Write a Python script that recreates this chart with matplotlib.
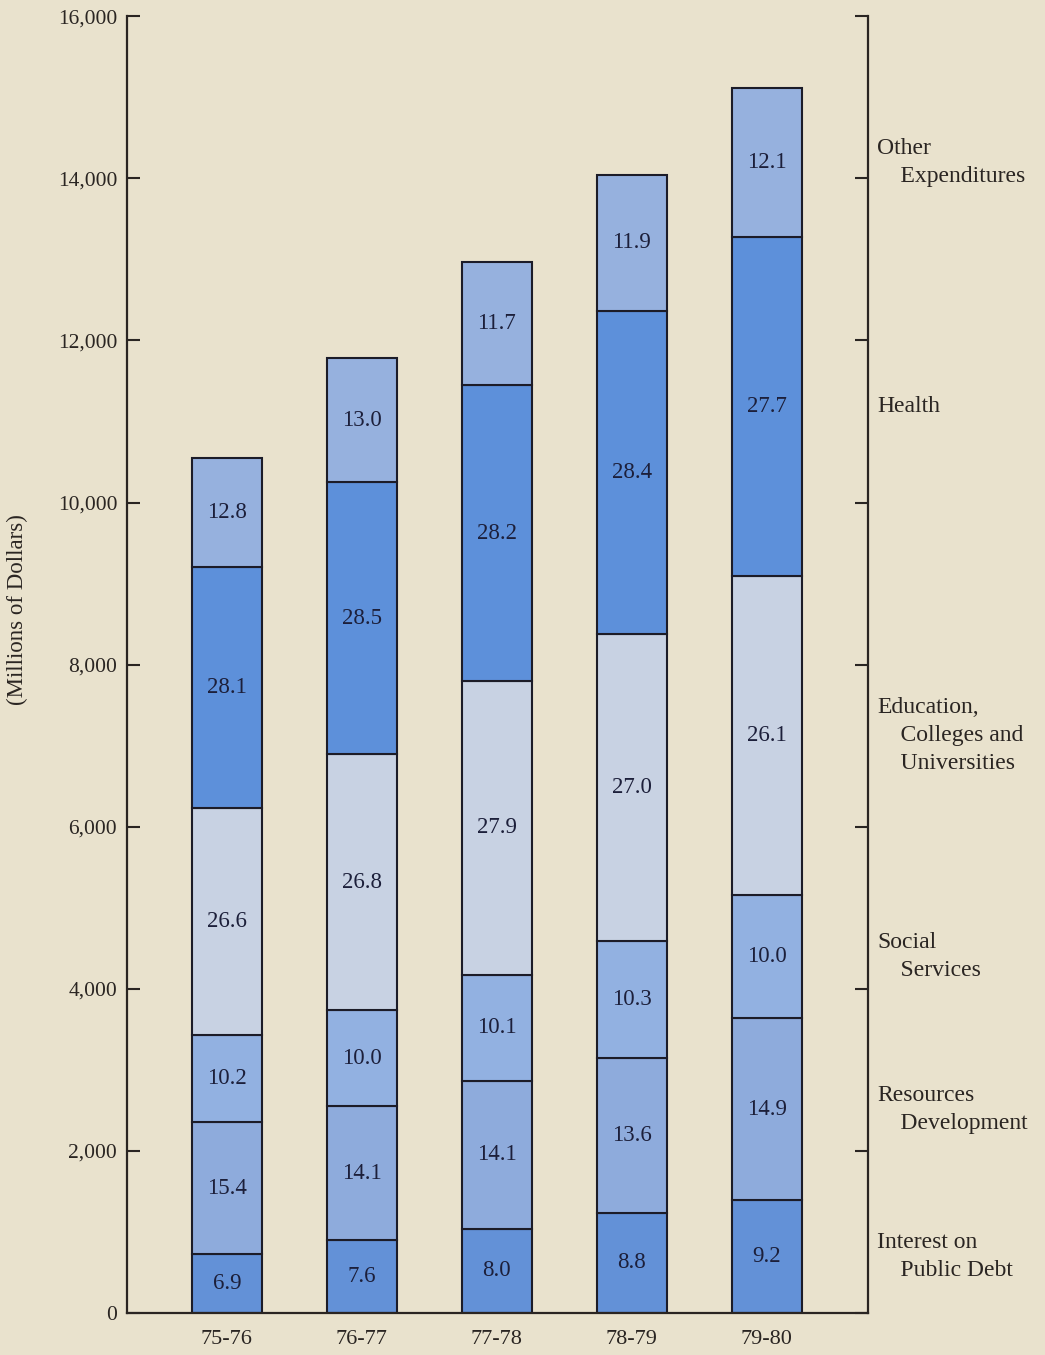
"""
Stacked expenditure bars, 1975-76 to 1979-80
"""

import matplotlib
matplotlib.use("Agg")
import matplotlib.pyplot as plt
import numpy as np

YEARS = ["75-76", "76-77", "77-78", "78-79", "79-80"]
TOTALS = [10550, 11780, 12970, 14040, 15110]  # millions of dollars

CATEGORIES = ["Interest on\n    Public Debt",
              "Resources\n    Development",
              "Social\n    Services",
              "Education,\n    Colleges and\n    Universities",
              "Health",
              "Other\n    Expenditures"]

# percent shares, bottom to top
INTEREST = [6.9, 7.6, 8.0, 8.8, 9.2]
RESOURCES = [15.4, 14.1, 14.1, 13.6, 14.9]
SOCIAL = [10.2, 10.0, 10.1, 10.3, 10.0]
EDUCATION = [26.6, 26.8, 27.9, 27.0, 26.1]
HEALTH = [28.1, 28.5, 28.2, 28.4, 27.7]
OTHER = [12.8, 13.0, 11.7, 11.9, 12.1]

SHARES = [INTEREST, RESOURCES, SOCIAL, EDUCATION, HEALTH, OTHER]
COLORS = ["#6391d7", "#8eabdc", "#92b1e1", "#c8d2e3", "#5d90da", "#96b1de"]
BG = "#e9e2cd"
INK = "#2a2522"
FONT = "Liberation Serif"

plt.rcParams['font.family'] = [FONT, 'DejaVu Serif']

fig = plt.figure(figsize=(10.45, 13.55), dpi=100, facecolor=BG)
ax = fig.add_axes([0.1215, 0.031, 0.709, 0.957])
ax.set_facecolor(BG)

x = np.arange(len(YEARS))
totals = np.array(TOTALS, dtype=float)
bottom = np.zeros(len(YEARS))
centers_last = []
for pct, color in zip(SHARES, COLORS):
    height = totals * np.array(pct) / 100.0
    ax.bar(x, height, bottom=bottom, width=0.52, color=color,
           edgecolor="#1c1c28", linewidth=1.5, zorder=2)
    for xi, b, h, p in zip(x, bottom, height, pct):
        ax.text(xi, b + h / 2, "{:.1f}".format(p), ha="center", va="center",
                fontsize=16.5, color="#1c1f3a", zorder=3)
    centers_last.append(bottom[-1] + height[-1] / 2)
    bottom = bottom + height

# category labels beside the last bar
for name, yc in zip(CATEGORIES, centers_last):
    ax.text(4.82, yc, name, ha="left", va="center", fontsize=17,
            color=INK, linespacing=1.43, clip_on=False)

ax.set_xlim(-0.74, 4.75)
ax.set_ylim(0, 16000)
ax.set_yticks(np.arange(0, 16001, 2000))
ax.set_yticklabels(["{:,}".format(v) for v in range(0, 16001, 2000)])
ax.set_xticks(x)
ax.set_xticklabels(YEARS)

ax.spines["top"].set_visible(False)
for side in ("left", "right", "bottom"):
    ax.spines[side].set_color(INK)
    ax.spines[side].set_linewidth(1.6)

ax.tick_params(axis="y", direction="in", length=9.5, width=1.5, color=INK,
               labelsize=15.5, labelcolor=INK, pad=7, right=True)
ax.tick_params(axis="x", length=0, labelsize=16, labelcolor=INK, pad=12)

fig.text(0.017, 0.55, "(Millions of Dollars)", rotation=90, ha="center",
         va="center", fontsize=16.5, color=INK)

fig.savefig("out.png", dpi=100, facecolor=BG)
plt.close(fig)
